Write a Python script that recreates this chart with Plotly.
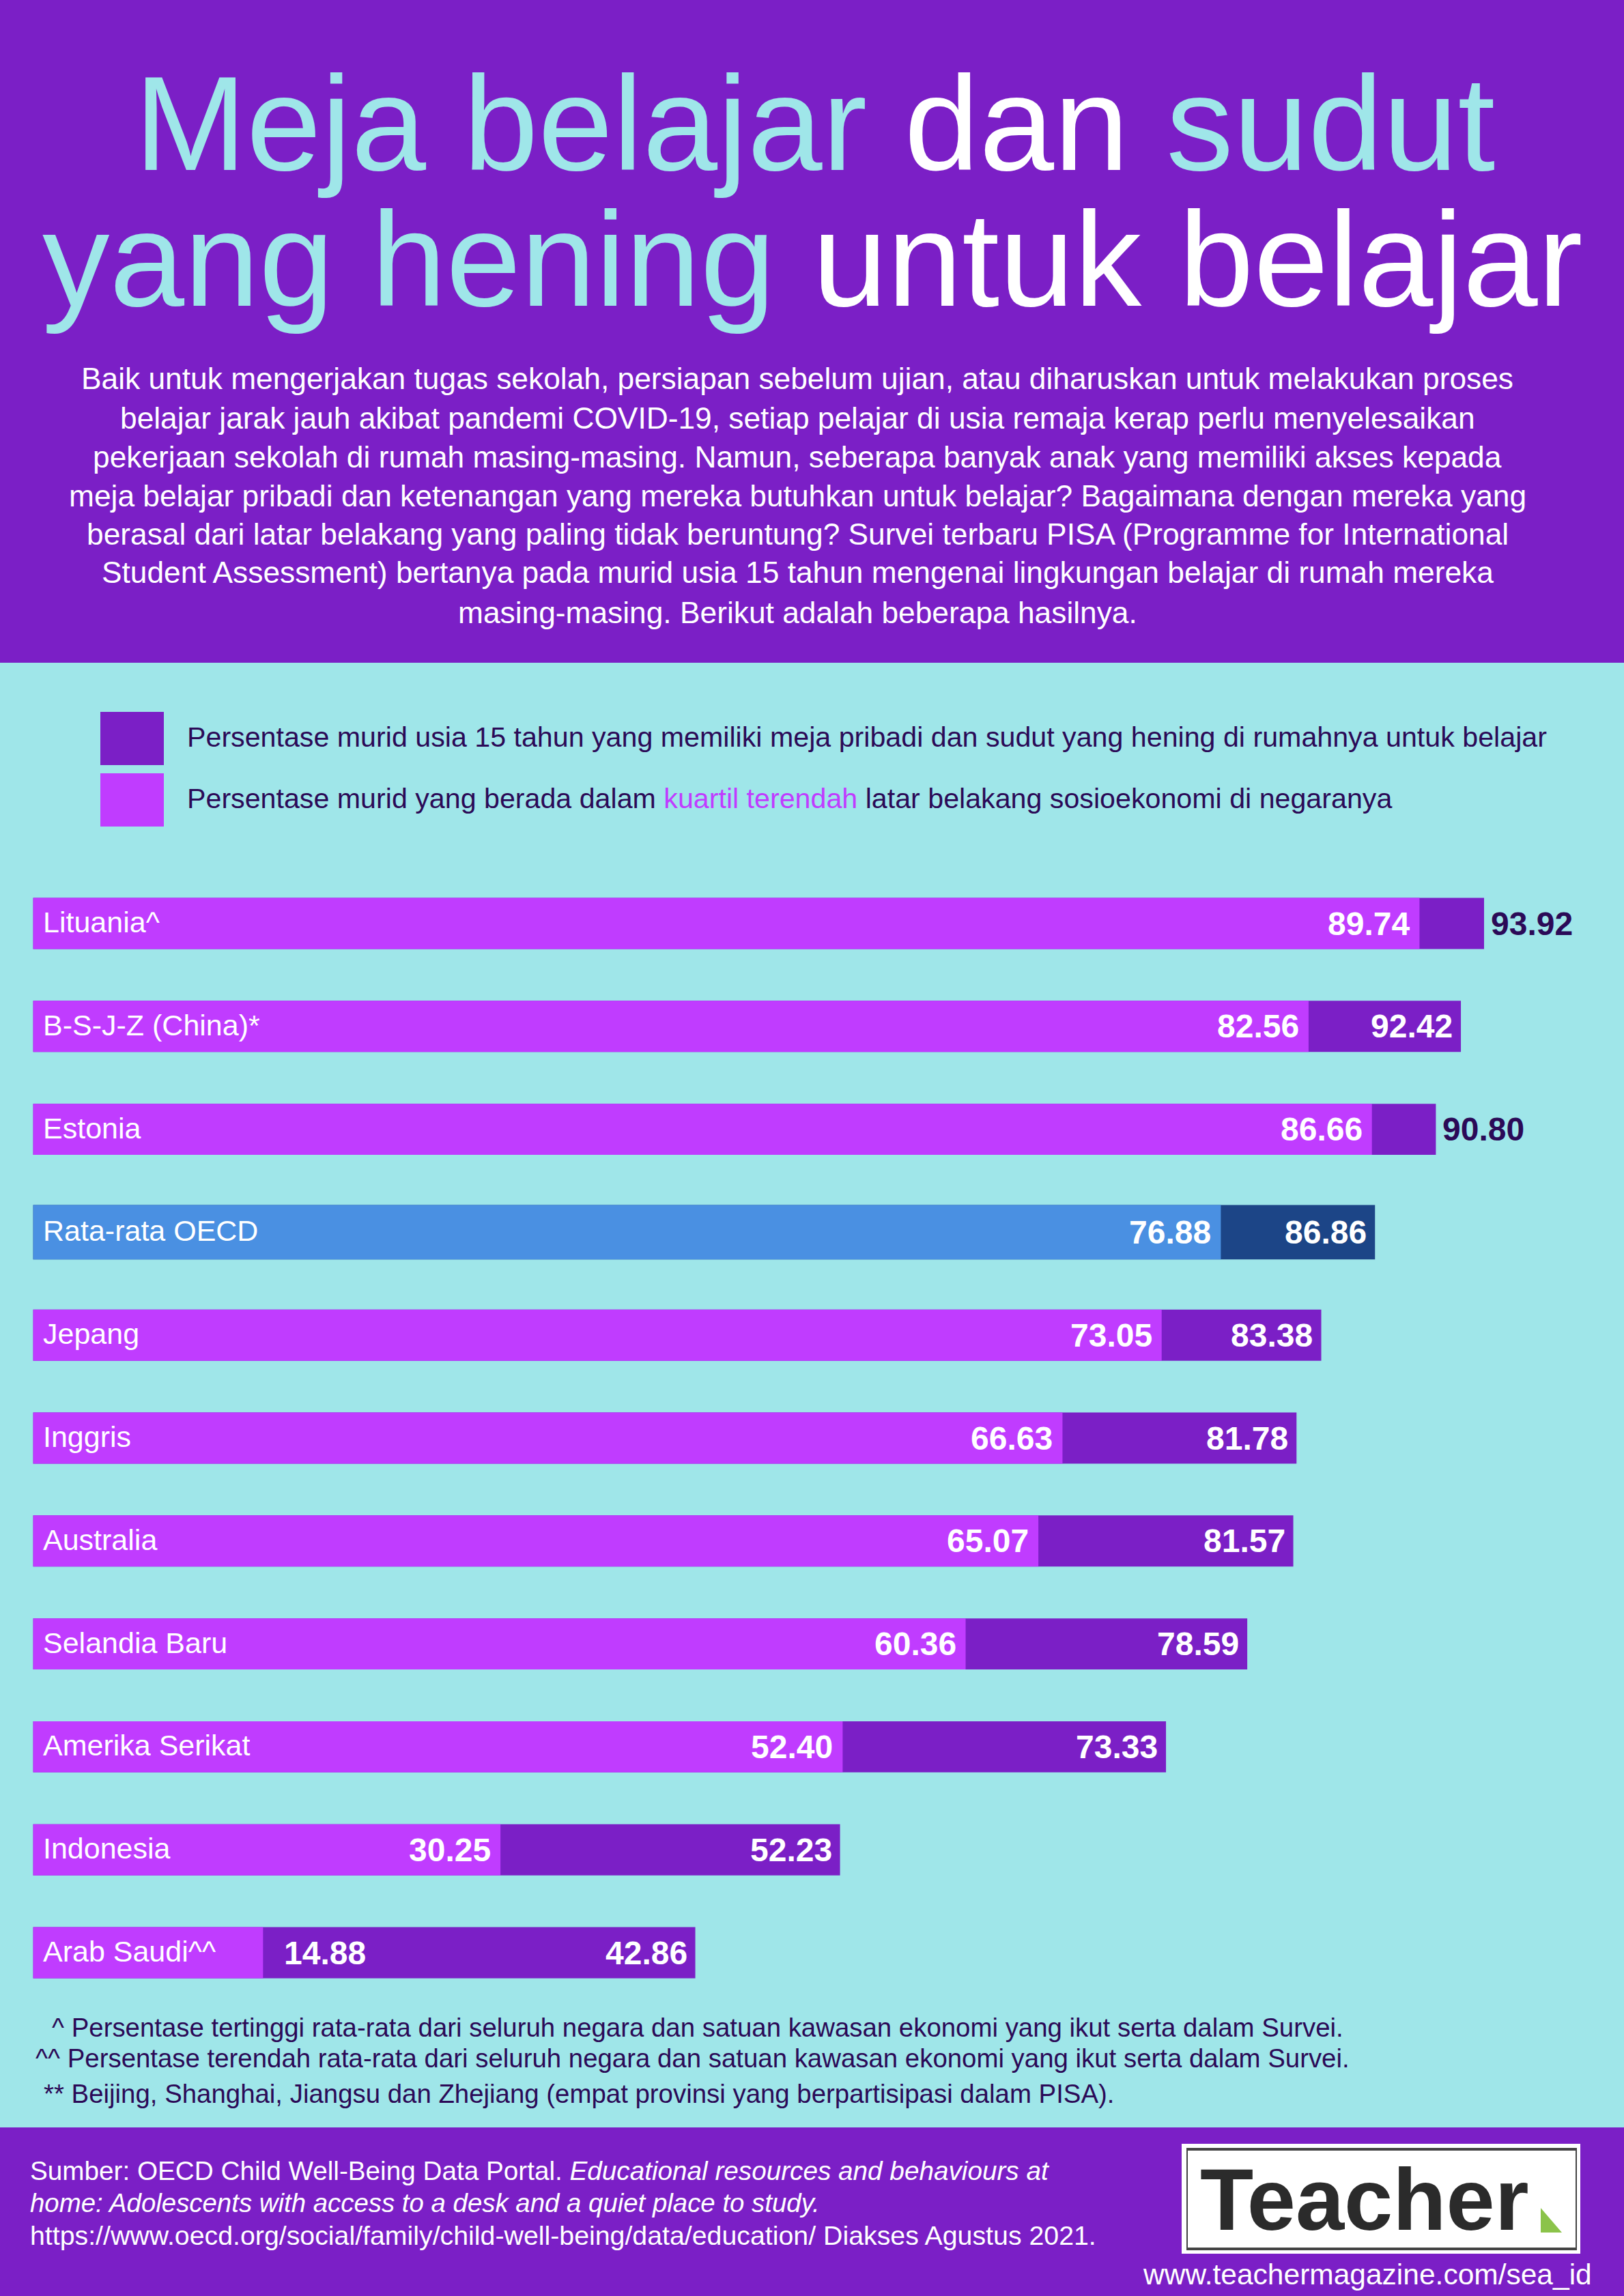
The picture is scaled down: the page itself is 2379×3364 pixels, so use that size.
import plotly.graph_objects as go

W, H = 2379, 3364

countries = ["Lituania^", "B-S-J-Z (China)*", "Estonia", "Rata-rata OECD", "Jepang", "Inggris",
             "Australia", "Selandia Baru", "Amerika Serikat", "Indonesia", "Arab Saudi^^"]
all_students = [93.92, 92.42, 90.80, 86.86, 83.38, 81.78, 81.57, 78.59, 73.33, 52.23, 42.86]
lowest_quartile = [89.74, 82.56, 86.66, 76.88, 73.05, 66.63, 65.07, 60.36, 52.40, 30.25, 14.88]

PURPLE = "#7b1fc6"
MAGENTA = "#c03cff"
CYAN = "#9fe6e9"
INK = "#2b0a57"
BLUE = "#4a90e2"
NAVY = "#1c4587"
FONT = "Liberation Sans"

body_lines = [
    "Baik untuk mengerjakan tugas sekolah, persiapan sebelum ujian, atau diharuskan untuk melakukan proses",
    "belajar jarak jauh akibat pandemi COVID-19, setiap pelajar di usia remaja kerap perlu menyelesaikan",
    "pekerjaan sekolah di rumah masing-masing. Namun, seberapa banyak anak yang memiliki akses kepada",
    "meja belajar pribadi dan ketenangan yang mereka butuhkan untuk belajar? Bagaimana dengan mereka yang",
    "berasal dari latar belakang yang paling tidak beruntung? Survei terbaru PISA (Programme for International",
    "Student Assessment) bertanya pada murid usia 15 tahun mengenai lingkungan belajar di rumah mereka",
    "masing-masing. Berikut adalah beberapa hasilnya.",
]
body_y = [555, 612, 669, 726, 783, 839, 897]


def px(x):
    return x / W


def py(y):
    return 1 - y / H


def add_text(fig, x, y, text, size, color="white", anchor="left", family=FONT):
    fig.add_annotation(xref="paper", yref="paper", x=px(x), y=py(y), text=text, showarrow=False,
                       xanchor=anchor, yanchor="middle", align=anchor,
                       font=dict(family=family, size=size, color=color))


def add_box(fig, x0, y0, x1, y1, color):
    fig.add_shape(type="rect", xref="paper", yref="paper", x0=px(x0), x1=px(x1), y0=py(y0), y1=py(y1),
                  fillcolor=color, line_width=0, layer="below")


is_avg = [c == "Rata-rata OECD" for c in countries]
widths = [0.53 if a else 0.497 for a in is_avg]

fig = go.Figure()
fig.add_trace(go.Bar(y=countries, x=all_students, orientation="h", width=widths,
                     marker=dict(color=[NAVY if a else PURPLE for a in is_avg], line_width=0),
                     hoverinfo="x+y", name="Semua murid"))
fig.add_trace(go.Bar(y=countries, x=lowest_quartile, orientation="h", width=widths,
                     marker=dict(color=[BLUE if a else MAGENTA for a in is_avg], line_width=0),
                     hoverinfo="x+y", name="Kuartil terendah"))

# panels
add_box(fig, 0, 0, W, 971, PURPLE)
add_box(fig, 0, 3117, W, H, PURPLE)

# title
add_text(fig, 1193, 181, f'<span style="color:{CYAN}">Meja belajar</span> dan <span style="color:{CYAN}">sudut</span>',
         197, anchor="center")
add_text(fig, 1190, 380, f'<span style="color:{CYAN}">yang hening</span> untuk belajar', 197, anchor="center")

for line, y in zip(body_lines, body_y):
    add_text(fig, 1168, y, line, 44.3, anchor="center")

# legend
add_box(fig, 147, 1043, 240, 1121, PURPLE)
add_box(fig, 147, 1133, 240, 1211, MAGENTA)
add_text(fig, 272, 1080, "Persentase murid usia 15 tahun yang memiliki meja pribadi dan sudut yang hening di rumahnya untuk belajar",
         41.2, INK)
add_text(fig, 272, 1170, f'Persentase murid yang berada dalam <span style="color:{MAGENTA}">kuartil terendah</span> '
         'latar belakang sosioekonomi di negaranya', 41.2, INK)

# bar labels
for c, total, low in zip(countries, all_students, lowest_quartile):
    fig.add_annotation(x=0, y=c, text=c, showarrow=False, xanchor="left", xshift=12, yshift=2,
                       font=dict(family=FONT, size=43, color="white"))
    if total - low < 5:
        fig.add_annotation(x=total, y=c, text=f"{total:.2f}", showarrow=False, xanchor="left", xshift=8,
                           font=dict(family=FONT, size=48, color=INK, weight="bold"))
    else:
        fig.add_annotation(x=total, y=c, text=f"{total:.2f}", showarrow=False, xanchor="right", xshift=-10,
                           font=dict(family=FONT, size=48, color="white", weight="bold"))
    if low < 20:
        fig.add_annotation(x=low, y=c, text=f"{low:.2f}", showarrow=False, xanchor="left", xshift=29,
                           font=dict(family=FONT, size=48, color="white", weight="bold"))
    else:
        fig.add_annotation(x=low, y=c, text=f"{low:.2f}", showarrow=False, xanchor="right", xshift=-12,
                           font=dict(family=FONT, size=48, color="white", weight="bold"))

# footnotes
add_text(fig, 74, 2970, "^ Persentase tertinggi rata-rata dari seluruh negara dan satuan kawasan ekonomi yang ikut serta dalam Survei.", 38.4, INK)
add_text(fig, 50, 3015, "^^ Persentase terendah rata-rata dari seluruh negara dan satuan kawasan ekonomi yang ikut serta dalam Survei.", 38.4, INK)
add_text(fig, 62, 3067, "** Beijing, Shanghai, Jiangsu dan Zhejiang (empat provinsi yang berpartisipasi dalam PISA).", 38.4, INK)

# source
add_text(fig, 42, 3180, "Sumber: OECD Child Well-Being Data Portal. <i>Educational resources and behaviours at</i>", 38.7)
add_text(fig, 42, 3227, "<i>home: Adolescents with access to a desk and a quiet place to study.</i>", 38.4)
add_text(fig, 42, 3275, "https://www.oecd.org/social/family/child-well-being/data/education/ Diakses Agustus 2021.", 39.3)
add_text(fig, 1672, 3332, "www.teachermagazine.com/sea_id", 42.5)

# logo
add_box(fig, 1731, 3141, 2315, 3302, "white")
add_box(fig, 1738, 3147, 2310, 3151, "#444444")
add_box(fig, 1738, 3293, 2310, 3297, "#444444")
add_box(fig, 1738, 3147, 1740, 3297, "#444444")
add_box(fig, 2308, 3147, 2310, 3297, "#444444")
fig.add_shape(type="path", xref="paper", yref="paper", fillcolor="#8bc34a", line_width=0,
              path=f"M {px(2257)} {py(3235)} L {px(2288)} {py(3271)} L {px(2257)} {py(3271)} Z")
fig.add_annotation(xref="paper", yref="paper", x=px(1998), y=py(3222), text="<b>Teacher</b>", showarrow=False,
                   xanchor="center", yanchor="middle", font=dict(family=FONT, size=128, color="#2b2b2b"))

px_per_unit = 22.63
bar_left = 48.6
fig.update_layout(
    width=W, height=H, margin=dict(l=0, r=0, t=0, b=0),
    paper_bgcolor=CYAN, plot_bgcolor="rgba(0,0,0,0)",
    barmode="overlay", showlegend=False,
    xaxis=dict(visible=False, range=[-bar_left / px_per_unit, (W - bar_left) / px_per_unit]),
    yaxis=dict(visible=False, type="category", categoryorder="array", categoryarray=countries,
               range=[10.5, -0.5], domain=[py(2936.4), py(1277.6)]),
)

fig.write_html("out.html", config={"displayModeBar": False},
               post_script="document.body.style.margin='0';document.body.style.overflow='hidden';")
